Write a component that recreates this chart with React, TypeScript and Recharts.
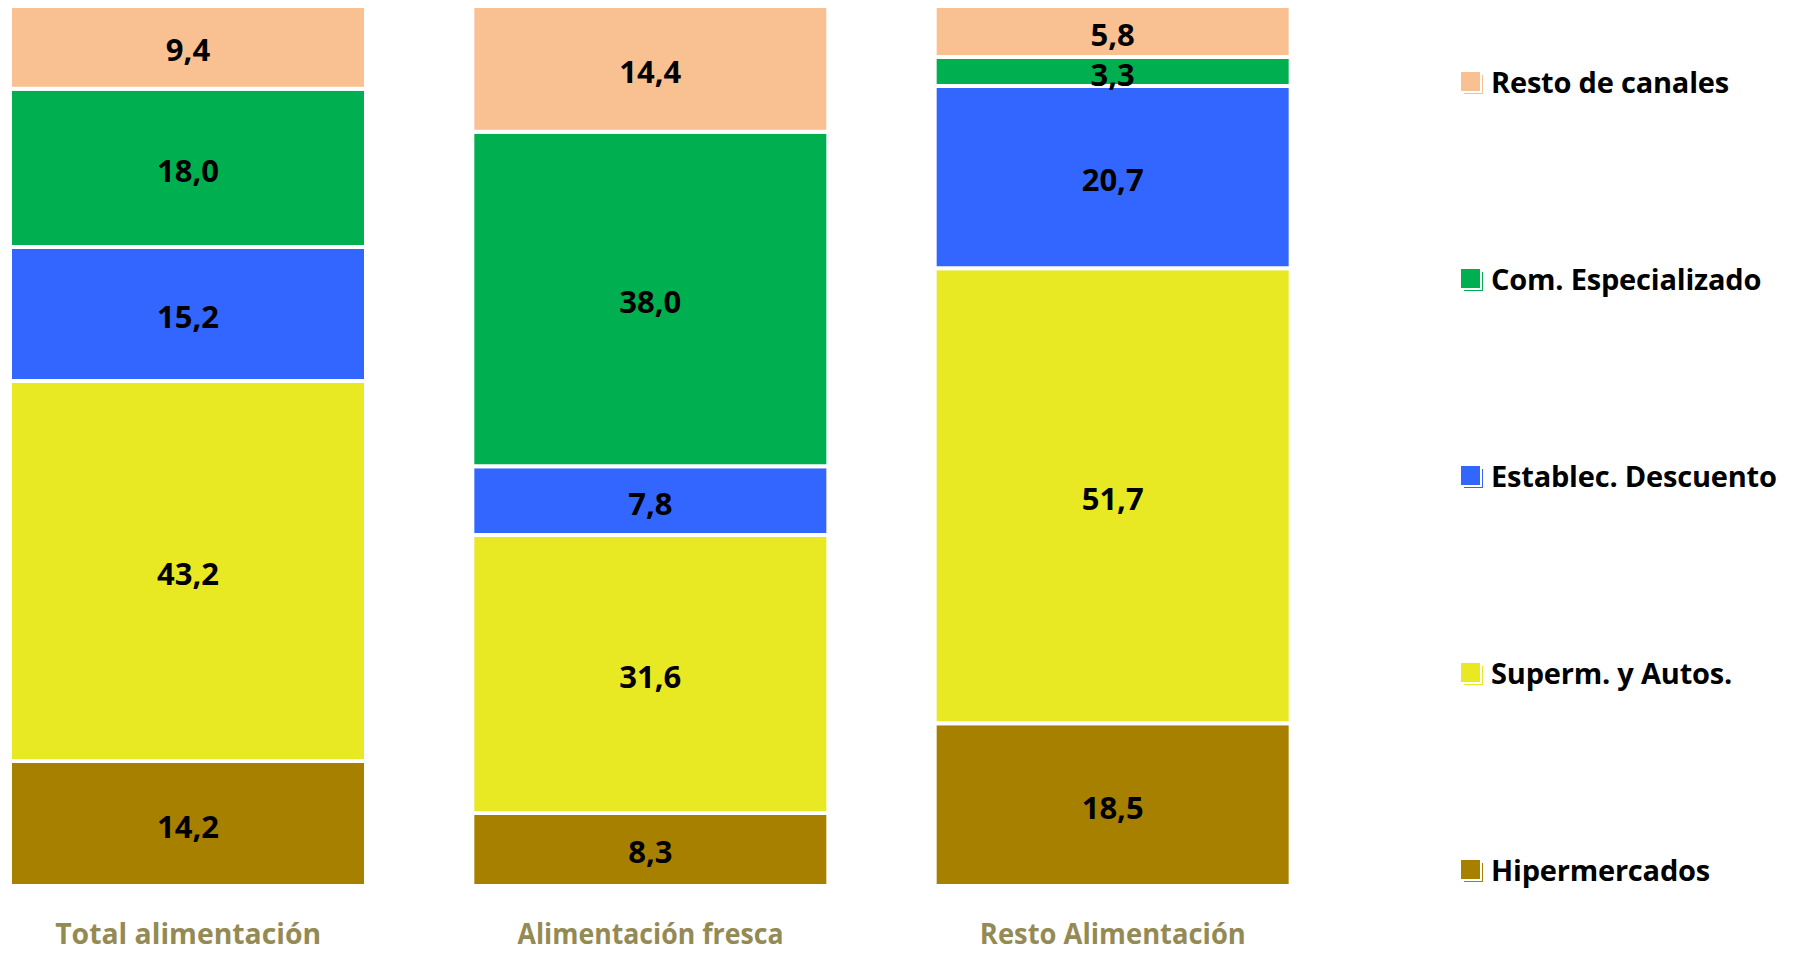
import { BarChart, Bar, XAxis, YAxis, Legend, LabelList } from 'recharts';

// ---------------- DATA ----------------
const categories = ['Total alimentación', 'Alimentación fresca', 'Resto Alimentación'];
const hipermercados = [14.2, 8.3, 18.5];
const supermercados = [43.2, 31.6, 51.7];
const descuento = [15.2, 7.8, 20.7];
const especializado = [18.0, 38.0, 3.3];
const restoCanales = [9.4, 14.4, 5.8];

// stacked from bottom to top
const SERIES = [
  { key: 'hiper', name: 'Hipermercados', values: hipermercados, color: '#A88000' },
  { key: 'super', name: 'Superm. y Autos.', values: supermercados, color: '#E8E823' },
  { key: 'desc', name: 'Establec. Descuento', values: descuento, color: '#3366FF' },
  { key: 'espec', name: 'Com. Especializado', values: especializado, color: '#00AF50' },
  { key: 'resto', name: 'Resto de canales', values: restoCanales, color: '#F9C191' },
];

const data = categories.map((name, i) => {
  const row: Record<string, any> = { name };
  SERIES.forEach((s) => (row[s.key] = s.values[i]));
  return row;
});

const fmt = (v: any) => Number(v).toFixed(1).replace('.', ',');

const LEGEND_W = 330;

// ---------------- X TICK ----------------
const CategoryTick = ({ x, y, payload }: any) => (
  <text
    x={x}
    y={y + 58}
    textAnchor="middle"
    fill="#948A54"
    fontFamily="'Open Sans', sans-serif"
    fontWeight={700}
    fontSize={29}
    textLength={266}
    lengthAdjust="spacingAndGlyphs">
    {payload.value}
  </text>
);

// ---------------- LEGEND ----------------
const LegendBox = () => (
  <div style={{ position: 'relative', width: LEGEND_W, height: 900 }}>
    {[...SERIES].reverse().map((s, i) => (
      <div
        key={s.key}
        style={{
          position: 'absolute',
          left: 0,
          top: 81 + i * 197 - 18,
          height: 36,
          display: 'flex',
          alignItems: 'center',
          whiteSpace: 'nowrap',
        }}>
        <span
          style={{
            width: 19,
            height: 19,
            background: s.color,
            boxShadow: '2px 2px 0 #fff, 3px 3px 0 ' + s.color,
            marginRight: 11,
          }}
        />
        <span
          style={{
            fontFamily: "'Open Sans', sans-serif",
            fontWeight: 700,
            fontSize: 29,
            letterSpacing: -0.2,
            color: '#000',
          }}>
          {s.name}
        </span>
      </div>
    ))}
  </div>
);

// ---------------- COMPONENT ----------------
export default function App() {
  return (
    <div style={{ marginLeft: -51, marginTop: -8, width: 1843, height: 953 }}>
      <BarChart
        width={1843}
        height={953}
        data={data}
        margin={{ top: 6, right: 456 - LEGEND_W, left: 0, bottom: 0 }}
        barCategoryGap={53}>
        <XAxis
          dataKey="name"
          axisLine={false}
          tickLine={false}
          tickSize={0}
          tickMargin={0}
          height={67}
          interval={0}
          tick={<CategoryTick />}
        />
        <YAxis hide domain={[0, 100]} allowDataOverflow />
        <Legend
          content={<LegendBox />}
          layout="vertical"
          verticalAlign="top"
          align="right"
          wrapperStyle={{ left: 1504, top: 0, width: LEGEND_W }}
        />
        {SERIES.map((s) => (
          <Bar
            key={s.key}
            dataKey={s.key}
            name={s.name}
            stackId="a"
            fill={s.color}
            stroke="#ffffff"
            strokeWidth={4}
            barSize={356}
            isAnimationActive={false}>
            <LabelList
              dataKey={s.key}
              position="center"
              formatter={fmt}
              fill="#000"
              fontFamily="'Open Sans', sans-serif"
              fontWeight={700}
              fontSize={31}
              dy={3}
            />
          </Bar>
        ))}
      </BarChart>
    </div>
  );
}
